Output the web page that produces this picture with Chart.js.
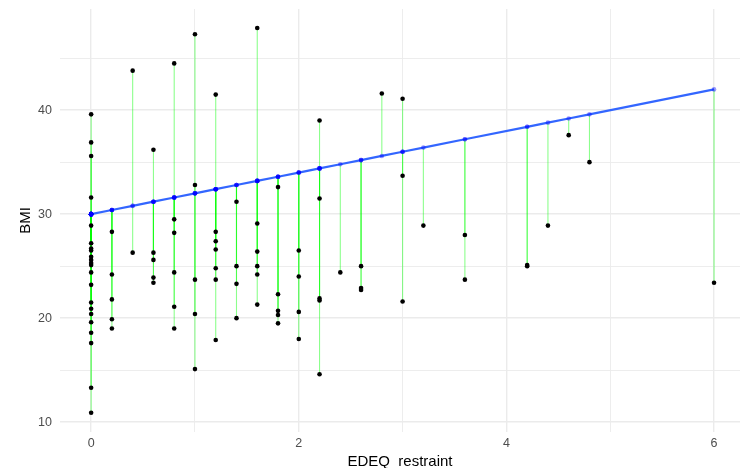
<!DOCTYPE html>
<html>
<head>
<meta charset="utf-8">
<script src="https://cdn.jsdelivr.net/npm/chart.js@4/dist/chart.umd.min.js"></script>
<style>
  html, body { margin: 0; padding: 0; background: #ffffff; }
  #wrap { width: 744px; height: 468px; }
</style>
</head>
<body>
<div id="wrap"><canvas id="chart" width="744" height="468"></canvas></div>
<script>
// EDEQ restraint levels present in the sample
const restraintLevels = [0, 0.2, 0.4, 0.6, 0.8, 1.0, 1.2, 1.4, 1.6, 1.8, 2.0, 2.2, 2.4, 2.6, 2.8, 3.0, 3.2, 3.6, 4.2, 4.4, 4.6, 4.8, 6.0];

// Observed BMI values at each restraint level
const bmiAtLevel = [
  [39.6, 36.9, 35.6, 31.6, 30.0, 28.9, 27.2, 26.7, 26.5, 25.9, 25.6, 25.3, 25.1, 24.4, 23.2, 21.5, 20.9, 20.4, 19.6, 18.6, 17.6, 13.3, 10.9],
  [28.3, 24.2, 21.8, 19.9, 19.0],
  [43.8, 26.3],
  [36.2, 26.3, 25.6, 23.9, 23.4],
  [44.5, 29.5, 28.2, 24.4, 21.1, 19.0],
  [47.3, 32.8, 23.7, 20.4, 15.1],
  [41.5, 28.3, 27.4, 26.6, 24.8, 23.7, 17.9],
  [31.2, 25.0, 23.3, 20.0],
  [47.9, 29.1, 26.4, 25.0, 24.2, 21.3],
  [32.6, 22.3, 20.7, 20.3, 19.5],
  [26.5, 24.0, 20.6, 18.0],
  [39.0, 31.5, 21.9, 21.7, 14.6],
  [24.4],
  [25.0, 22.9, 22.7],
  [41.6],
  [41.1, 33.7, 21.6],
  [28.9],
  [28.0, 23.7],
  [25.1, 25.0],
  [28.9],
  [37.6],
  [35.0],
  [23.4]
];

// Linear-model fitted BMI at each restraint level
const fittedBmi = [30.0, 30.4, 30.8, 31.2, 31.6, 32.0, 32.4, 32.8, 33.2, 33.6, 34.0, 34.4, 34.8, 35.2, 35.6, 36.0, 36.4, 37.2, 38.4, 38.8, 39.2, 39.6, 42.0];

// Axis tick labels
const xTickLabels = [0, 2, 4, 6];
const yTickLabels = [10, 20, 30, 40];

const FONT = "'Liberation Sans', Arial, Helvetica, sans-serif";

// One observation per row
const observations = [];
restraintLevels.forEach((x, i) => {
  bmiAtLevel[i].forEach(y => observations.push({ x: x, y: y, fit: fittedBmi[i] }));
});

// Residual segments: one small line dataset per observation so the
// translucent strokes build up where they overlap
const residualSets = observations.map(o => ({
  type: 'line',
  data: [{ x: o.x, y: o.y }, { x: o.x, y: o.fit }],
  borderColor: 'rgba(0, 255, 0, 0.45)',
  borderWidth: 1.1,
  pointRadius: 0,
  fill: false,
  order: 10
}));

const datasets = residualSets.concat([
  {
    type: 'scatter',
    label: 'BMI',
    data: observations.map(o => ({ x: o.x, y: o.y })),
    backgroundColor: '#000000',
    borderWidth: 0,
    pointRadius: 2.3,
    order: 5
  },
  {
    type: 'line',
    label: 'fit',
    data: restraintLevels.map((x, i) => ({ x: x, y: fittedBmi[i] })),
    borderColor: '#3366FF',
    borderWidth: 2.2,
    pointRadius: 0,
    fill: false,
    tension: 0,
    order: 3
  },
  {
    type: 'scatter',
    label: 'predicted',
    data: observations.map(o => ({ x: o.x, y: o.fit })),
    backgroundColor: 'rgba(0, 0, 255, 0.4)',
    borderWidth: 0,
    pointRadius: 2.3,
    order: 1
  }
]);

new Chart(document.getElementById('chart'), {
  type: 'scatter',
  data: { datasets: datasets },
  options: {
    responsive: false,
    devicePixelRatio: 1,
    animation: false,
    layout: { padding: { left: 0, right: 0, top: 9, bottom: 0 } },
    plugins: {
      legend: { display: false },
      tooltip: { enabled: false }
    },
    scales: {
      x: {
        type: 'linear',
        position: 'bottom',
        min: -0.3,
        max: 6.25,
        afterFit: s => { s.height = 36; s.paddingLeft = 0; s.paddingRight = 0; },
        border: { display: false },
        grid: {
          color: '#ebebeb',
          lineWidth: c => (c.tick && c.tick.value % 2 === 0 ? 1.4 : 0.9),
          drawTicks: false
        },
        ticks: {
          stepSize: 1,
          includeBounds: false,
          padding: 4,
          color: '#4d4d4d',
          font: { family: FONT, size: 12.5 },
          callback: v => (xTickLabels.includes(v) ? String(v) : '')
        },
        title: {
          display: true,
          text: 'EDEQ  restraint',
          color: '#000000',
          font: { family: FONT, size: 15, lineHeight: 1 },
          padding: { top: 0, bottom: -1.3 }
        }
      },
      y: {
        type: 'linear',
        position: 'left',
        min: 9.05,
        max: 49.73,
        afterFit: s => { s.width = 60; s.paddingTop = 0; s.paddingBottom = 0; },
        border: { display: false },
        grid: {
          color: '#ebebeb',
          lineWidth: c => (c.tick && c.tick.value % 10 === 0 ? 1.4 : 0.9),
          drawTicks: false
        },
        ticks: {
          stepSize: 5,
          includeBounds: false,
          padding: 8,
          color: '#4d4d4d',
          font: { family: FONT, size: 12.5 },
          callback: v => (yTickLabels.includes(v) ? String(v) : '')
        },
        title: {
          display: true,
          text: 'BMI',
          color: '#000000',
          font: { family: FONT, size: 15, lineHeight: 1.2 },
          padding: { top: 17, bottom: 0 }
        }
      }
    }
  }
});
</script>
</body>
</html>
